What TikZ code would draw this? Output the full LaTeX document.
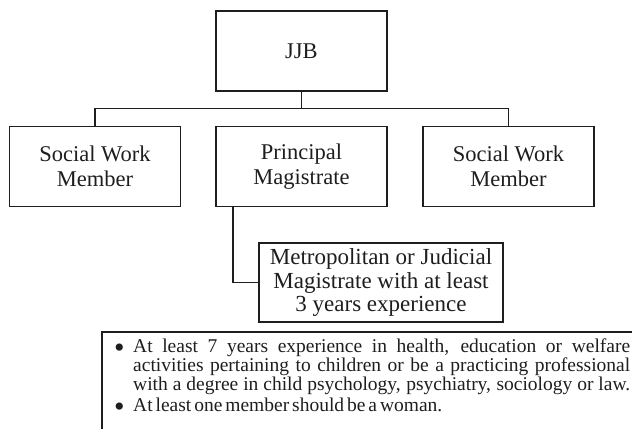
\documentclass[tikz,border=0pt]{standalone}
\usepackage{fontspec}
\setmainfont{Liberation Serif}
\usetikzlibrary{calc}
\definecolor{ink}{HTML}{1E1E1E}
\newcommand{\critbullet}{\llap{\raisebox{-4.5pt}{\fontsize{30}{19}\selectfont\textbullet}\hspace{8.5pt}}}
\begin{document}
\begin{tikzpicture}[x=1pt,y=-1pt,
  box/.style={draw=ink, line width=1.6pt, rectangle, inner sep=0pt,
    align=center, text=ink, font=\fontsize{22.5}{25.5}\selectfont,
    minimum width=171pt, minimum height=80pt},
  link/.style={draw=ink, line width=1.5pt}]
\useasboundingbox (0,0) rectangle (632,432);

% board and its three members
\node[box] (jjb) at (301.5,51) {JJB};
\node[box] (swl) at (95,166.5) {Social Work\\Member};
\node[box] (pm)  at (301.5,166.5) {Principal\\Magistrate};
\node[box] (swr) at (508.5,166.5) {Social Work\\Member};

\coordinate (bus) at (0,108.5);
\draw[link] (jjb.south) -- (jjb.south |- bus);
\draw[link] (swl.north) -- (swl.north |- bus) -| (swr.north);

% qualification of the principal magistrate
\node[box, minimum width=244pt, minimum height=79pt,
      font=\fontsize{23}{23.5}\selectfont] (metro) at (381,282.5)
  {Metropolitan or Judicial\\Magistrate with at least\\3 years experience};
\draw[link] ([xshift=-68.5pt]pm.south) |- (metro.west);

% open frame around the membership criteria
\coordinate (fr) at (632,332);
\coordinate (fb) at (102,429);
\draw[link, line width=1.9pt] (fr) -| (fb);

\node[anchor=base west, inner sep=0pt, text=ink] (crit) at (133,352.5)
  {\begin{minipage}[t]{497pt}\fontsize{19.5}{19}\selectfont
   \spaceskip=0.15em plus 2em minus 0.05em\relax
   \leavevmode\critbullet\makebox[\linewidth][s]{At least 7 years experience in health, education or welfare}\\
   \makebox[\linewidth][s]{activities pertaining to children or be a practicing professional}\\
   \makebox[\linewidth][s]{with a degree in child psychology, psychiatry, sociology or law.}\\[2pt]
   \critbullet At least one member should be a woman.
   \end{minipage}};
\end{tikzpicture}
\end{document}
